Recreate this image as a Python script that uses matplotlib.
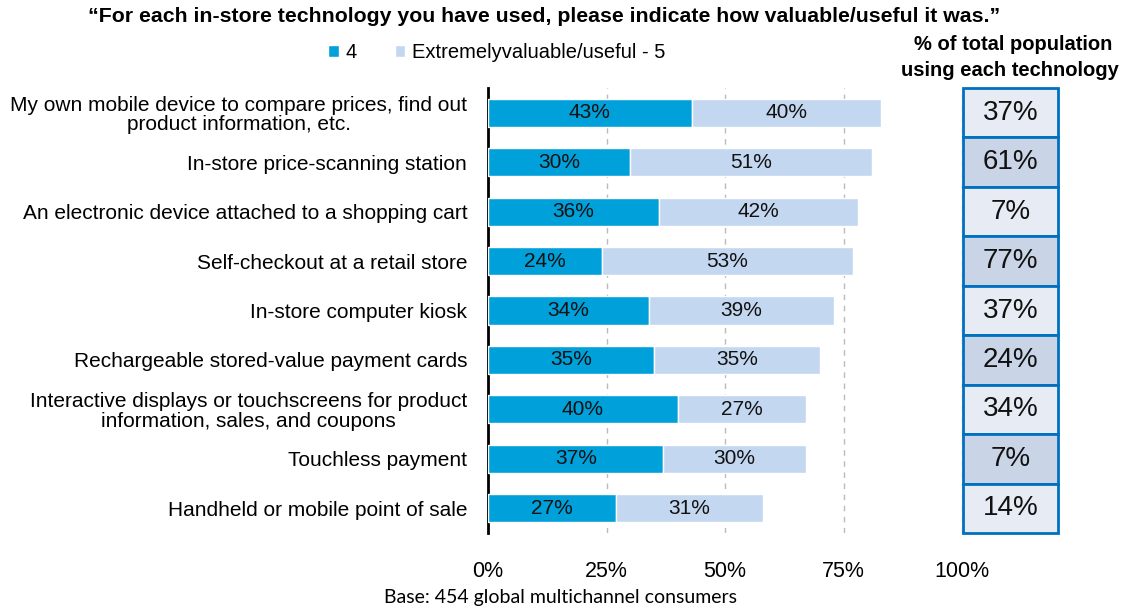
import matplotlib
matplotlib.use("Agg")
import matplotlib.pyplot as plt
from matplotlib.patches import Rectangle
import numpy as np

plt.rcParams['font.family'] = ['Liberation Sans', 'DejaVu Sans']

categories = [
    "My own mobile device to compare prices, find out\nproduct information, etc.",
    "In-store price-scanning station",
    "An electronic device attached to a shopping cart",
    "Self-checkout at a retail store",
    "In-store computer kiosk",
    "Rechargeable stored-value payment cards",
    "Interactive displays or touchscreens for product\ninformation, sales, and coupons",
    "Touchless payment",
    "Handheld or mobile point of sale",
]
rating_4 = [43, 30, 36, 24, 34, 35, 40, 37, 27]
rating_5 = [40, 51, 42, 53, 39, 35, 27, 30, 31]
population_using = [37, 61, 7, 77, 37, 24, 34, 7, 14]
x_ticks = [0, 25, 50, 75, 100]
series_names = ["4", "Extremelyvaluable/useful - 5"]

c4 = "#00A0DA"
c5 = "#C4D7F0"
cell_light = "#E6EBF4"
cell_dark = "#C9D5E7"
cell_edge = "#0070C0"

W, H = 1130, 612
fig = plt.figure(figsize=(W / 100, H / 100), dpi=100)
ax = fig.add_axes([488 / W, 1 - 533 / H, (962 - 488) / W, (533 - 88) / H])

y = np.arange(len(categories))
bar_h = 0.57
b4 = ax.barh(y, rating_4, height=bar_h, color=c4, edgecolor="white", linewidth=1, zorder=3)
b5 = ax.barh(y, rating_5, left=rating_4, height=bar_h, color=c5, edgecolor="white", linewidth=1, zorder=3)

for yi, a, b in zip(y, rating_4, rating_5):
    ax.text(a / 2, yi, f"{a}%", ha="center", va="center", fontsize=15, color="#111111", zorder=4)
    ax.text(a + b / 2, yi, f"{b}%", ha="center", va="center", fontsize=15, color="#111111", zorder=4)

ax.set_xlim(0, 100)
ax.set_ylim(len(categories) - 0.5, -0.5)
ax.set_xticks(x_ticks)
ax.set_xticklabels([f"{t}%" for t in x_ticks], fontsize=15.5)
ax.tick_params(axis="x", length=0, pad=20)
ax.set_yticks(y)
ax.set_yticklabels(categories, fontsize=15, linespacing=1.05)
ax.tick_params(axis="y", length=0, pad=15)
for lbl in ax.get_yticklabels():
    lbl.set_multialignment("center")

for t in x_ticks[1:]:
    ax.axvline(t, color="#BBBBBB", linestyle=(0, (4, 4)), linewidth=1, zorder=1)

for s in ["top", "right", "bottom"]:
    ax.spines[s].set_visible(False)
ax.spines["left"].set_linewidth(2)
ax.spines["left"].set_color("black")

# share-of-population column drawn to the right of the 100% line
for yi, v in zip(y, population_using):
    fc = cell_dark if yi % 2 else cell_light
    ax.add_patch(Rectangle((100.2, yi - 0.5), 20, 1.0, facecolor=fc, edgecolor=cell_edge,
                           linewidth=2, clip_on=False, zorder=2))
    ax.text(110.2, yi, f"{v}%", ha="center", va="center", fontsize=20, color="#111111",
            clip_on=False, zorder=3)

fig.text(1013 / W, 1 - 45 / H, "% of total population", ha="center", va="center",
         fontsize=14.5, fontweight="bold")
fig.text(1010 / W, 1 - 70 / H, "using each technology", ha="center", va="center",
         fontsize=14.5, fontweight="bold")

fig.text(544 / W, 1 - 17 / H,
         "\u201cFor each in-store technology you have used, please indicate how valuable/useful it was.\u201d",
         ha="center", va="center", fontsize=15.3, fontweight="bold")

# legend
leg = fig.legend([b4, b5], series_names, loc="center", bbox_to_anchor=(497 / W, 1 - 53 / H),
                 ncol=2, frameon=False, fontsize=14.5, handlelength=0.5, handleheight=0.55,
                 handletextpad=0.35, columnspacing=1.9)

fig.text(560 / W, 1 - 598 / H, "Base: 454 global multichannel consumers", ha="center",
         va="center", fontsize=14, family=["Lato", "DejaVu Sans"])

fig.savefig("out.png", dpi=100)
